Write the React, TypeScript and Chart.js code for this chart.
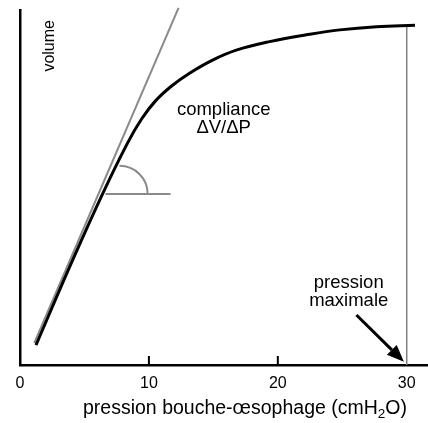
import React, { useEffect, useRef } from "react";
import { Chart, registerables } from "chart.js";

Chart.register(...registerables);

// x ticks (pression, cmH2O)
const X_TICKS = [0, 10, 20, 30];
const INNER_TICK_MARKS = [10, 20];

// pressure-volume curve
const CURVE_P = [1.24, 4.09, 6.47, 8.34, 9.43, 10.51, 11.76, 13.15, 14.94, 16.78, 19.37, 22.22, 24.81, 27.66, 30.64];
const CURVE_V = [5.6, 29.6, 48.7, 62.5, 69.3, 74.4, 78.6, 82.2, 85.9, 88.7, 91.1, 93.0, 94.4, 95.3, 95.7];

// tangent (compliance) line
const TANGENT_P = [1.11, 12.3];
const TANGENT_V = [6.2, 100.6];

// pression maximale vertical
const PMAX_P = [30, 30];
const PMAX_V = [0, 95.5];

// angle marker baseline
const ANGLE_P = [6.63, 11.68];
const ANGLE_V = [48.2, 48.2];

const FONT = "'Liberation Sans', Arial, Helvetica, sans-serif";

const toPts = (xs: number[], ys: number[]) => xs.map((x, i) => ({ x, y: ys[i] }));

const annotations = {
  id: "annotations",
  afterDatasetsDraw(chart: any) {
    const { ctx } = chart;
    const xs = chart.scales.x;
    const ys = chart.scales.y;
    const X = (v: number) => xs.getPixelForValue(v);
    const Y = (v: number) => ys.getPixelForValue(v);
    ctx.save();

    // inner tick marks
    ctx.strokeStyle = "#000";
    ctx.lineWidth = 2;
    INNER_TICK_MARKS.forEach((t) => {
      ctx.beginPath();
      ctx.moveTo(X(t), chart.chartArea.bottom);
      ctx.lineTo(X(t), chart.chartArea.bottom - 9);
      ctx.stroke();
    });

    // angle arc
    const cx = X(7.72);
    const cy = Y(48.2);
    const r = X(7.72 + 2.18) - cx;
    ctx.strokeStyle = "#8a8a8a";
    ctx.lineWidth = 2;
    ctx.beginPath();
    ctx.arc(cx, cy, r, -Math.PI / 2, 0);
    ctx.stroke();

    // arrow
    const x0 = X(26.1), y0 = Y(14.1), x1 = X(29.78), y1 = Y(0.9);
    const ang = Math.atan2(y1 - y0, x1 - x0);
    const hl = 17, hw = 7;
    const bx = x1 - hl * Math.cos(ang), by = y1 - hl * Math.sin(ang);
    ctx.strokeStyle = "#000";
    ctx.fillStyle = "#000";
    ctx.lineWidth = 3;
    ctx.beginPath();
    ctx.moveTo(x0, y0);
    ctx.lineTo(bx, by);
    ctx.stroke();
    ctx.beginPath();
    ctx.moveTo(x1, y1);
    ctx.lineTo(bx + hw * Math.sin(ang), by - hw * Math.cos(ang));
    ctx.lineTo(bx - hw * Math.sin(ang), by + hw * Math.cos(ang));
    ctx.closePath();
    ctx.fill();

    // texts
    ctx.fillStyle = "#000";
    ctx.textAlign = "center";
    ctx.textBaseline = "alphabetic";
    ctx.font = `18.5px ${FONT}`;
    ctx.fillText("compliance", X(15.8), Y(70.4));
    ctx.fillText("\u0394V/\u0394P", X(15.8), Y(65.3));
    ctx.fillText("pression", X(25.5), Y(21.6));
    ctx.fillText("maximale", X(25.5), Y(16.6));

    // volume (rotated)
    ctx.save();
    ctx.font = `16px ${FONT}`;
    ctx.translate(54, 45.8);
    ctx.rotate(-Math.PI / 2);
    ctx.fillText("volume", 0, 0);
    ctx.restore();

    // x axis title with subscript
    const big = `19.5px ${FONT}`;
    const small = `13.5px ${FONT}`;
    const p1 = "pression bouche-\u0153sophage (cmH";
    const p2 = "2";
    const p3 = "O)";
    ctx.font = big;
    const w1 = ctx.measureText(p1).width;
    const w3 = ctx.measureText(p3).width;
    ctx.font = small;
    const w2 = ctx.measureText(p2).width;
    const total = w1 + w2 + w3;
    const baseY = 414;
    let sx = 245 - total / 2;
    ctx.textAlign = "left";
    ctx.font = big;
    ctx.fillText(p1, sx, baseY);
    sx += w1;
    ctx.font = small;
    ctx.fillText(p2, sx, baseY + 4);
    sx += w2;
    ctx.font = big;
    ctx.fillText(p3, sx, baseY);

    ctx.restore();
  },
};

export default function App() {
  const ref = useRef<HTMLCanvasElement>(null);
  useEffect(() => {
    if (!ref.current) return;
    const chart = new Chart(ref.current, {
      type: "scatter",
      data: {
        datasets: [
          {
            data: toPts(CURVE_P, CURVE_V),
            showLine: true,
            borderColor: "#000",
            borderWidth: 3,
            pointRadius: 0,
            tension: 0.4,
            clip: false,
          } as any,
          {
            data: toPts(TANGENT_P, TANGENT_V),
            showLine: true,
            borderColor: "#8a8a8a",
            borderWidth: 2,
            pointRadius: 0,
            clip: false,
          } as any,
          {
            data: toPts(PMAX_P, PMAX_V),
            showLine: true,
            borderColor: "#808080",
            borderWidth: 1.5,
            pointRadius: 0,
            clip: false,
          } as any,
          {
            data: toPts(ANGLE_P, ANGLE_V),
            showLine: true,
            borderColor: "#8a8a8a",
            borderWidth: 2,
            pointRadius: 0,
            clip: false,
          } as any,
        ],
      },
      options: {
        animation: false,
        responsive: true,
        maintainAspectRatio: false,
        layout: { padding: { top: 10, left: 0, right: 0, bottom: 0 } },
        plugins: { legend: { display: false }, tooltip: { enabled: false }, title: { display: false } },
        scales: {
          x: {
            type: "linear",
            min: 0,
            max: 31.65,
            grid: { display: false, drawTicks: false },
            border: { display: true, color: "#000", width: 2.5 },
            ticks: {
              color: "#000",
              font: { family: FONT, size: 16 },
              padding: 9,
              maxRotation: 0,
            },
            afterBuildTicks: (s: any) => {
              s.ticks = X_TICKS.map((v) => ({ value: v }));
            },
            afterFit: (s: any) => {
              s.height = 58;
            },
          },
          y: {
            type: "linear",
            min: 0,
            max: 100,
            grid: { display: false, drawTicks: false },
            border: { display: true, color: "#000", width: 2.5 },
            ticks: { display: false },
            afterFit: (s: any) => {
              s.width = 20;
            },
          },
        },
      },
      plugins: [annotations],
    });
    return () => chart.destroy();
  }, []);
  return (
    <div style={{ position: "fixed", left: 0, top: 0, width: 428, height: 423, background: "#fff" }}>
      <canvas ref={ref} />
    </div>
  );
}
